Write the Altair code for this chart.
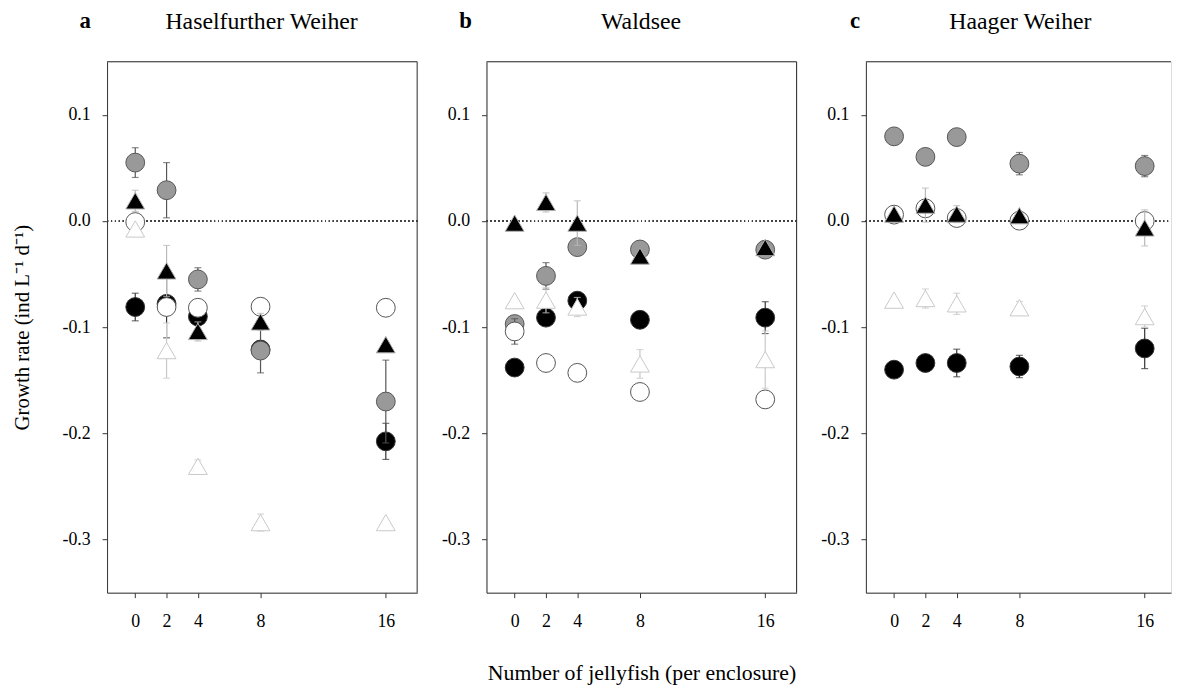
import altair as alt
import pandas as pd

# ---------------- data ----------------
x_vals = [0, 2, 4, 8, 16]
panel_ids = ["a", "b", "c"]
lake_names = ["Haselfurther Weiher", "Waldsee", "Haager Weiher"]
series_order = ["black_circle", "gray_circle", "open_circle", "black_triangle", "light_triangle"]

# Panel a: Haselfurther Weiher
a_black_circle = [-0.081, -0.078, -0.090, -0.121, -0.2075]
a_black_circle_se = [0.013, 0.032, 0.0, 0.0, 0.017]
a_gray_circle = [0.055, 0.029, -0.055, -0.122, -0.170]
a_gray_circle_se = [0.014, 0.026, 0.011, 0.021, 0.039]
a_open_circle = [-0.001, -0.081, -0.0817, -0.0807, -0.0817]
a_open_circle_se = [0.0, 0.0, 0.0, 0.0, 0.0]
a_black_triangle = [0.019, -0.047, -0.104, -0.095, -0.1165]
a_black_triangle_se = [0.010, 0.024, 0.009, 0.008, 0.0]
a_light_triangle = [-0.0075, -0.122, -0.231, -0.284, -0.284]
a_light_triangle_se = [0.0, 0.026, 0.006, 0.008, 0.0]

# Panel b: Waldsee
b_black_circle = [-0.138, -0.091, -0.075, -0.093, -0.091]
b_black_circle_se = [0.0, 0.0, 0.0, 0.0, 0.015]
b_gray_circle = [-0.097, -0.0517, -0.0246, -0.0268, -0.027]
b_gray_circle_se = [0.0, 0.0125, 0.0, 0.0, 0.0]
b_open_circle = [-0.104, -0.1337, -0.143, -0.161, -0.168]
b_open_circle_se = [0.012, 0.0, 0.0, 0.0, 0.0]
b_black_triangle = [-0.002, 0.0175, -0.002, -0.033, -0.025]
b_black_triangle_se = [0.0, 0.009, 0.021, 0.0, 0.0]
b_light_triangle = [-0.075, -0.0745, -0.081, -0.1346, -0.1305]
b_light_triangle_se = [0.0, 0.012, 0.009, 0.0135, 0.027]

# Panel c: Haager Weiher
c_black_circle = [-0.140, -0.1337, -0.1337, -0.137, -0.120]
c_black_circle_se = [0.0, 0.0, 0.013, 0.0105, 0.019]
c_gray_circle = [0.0797, 0.0604, 0.079, 0.054, 0.0517]
c_gray_circle_se = [0.0, 0.0, 0.0, 0.0105, 0.010]
c_open_circle = [0.006, 0.0119, 0.0028, 0.0003, 0.0]
c_open_circle_se = [0.0, 0.0, 0.0, 0.0, 0.0]
c_black_triangle = [0.0065, 0.015, 0.0065, 0.005, -0.0065]
c_black_triangle_se = [0.0, 0.016, 0.008, 0.0, 0.017]
c_light_triangle = [-0.0745, -0.073, -0.078, -0.0817, -0.090]
c_light_triangle_se = [0.0, 0.009, 0.010, 0.006, 0.010]

y_tick_values = [0.1, 0.0, -0.1, -0.2, -0.3]

# ---------------- build table ----------------
g = globals()
rows = []
for p in panel_ids:
    for s in series_order:
        vals = g[f"{p}_{s}"]
        ses = g[f"{p}_{s}_se"]
        for xv, yv, se in zip(x_vals, vals, ses):
            rows.append({"panel": p, "series": s, "x": xv, "y": yv, "se": se,
                         "lo": yv - se, "hi": yv + se})
df = pd.DataFrame(rows)

# ---------------- styles ----------------
FONT = "Liberation Serif"
style = {
    "black_circle": dict(shape="circle", fill="#000000", stroke="#333333", err="#333333"),
    "gray_circle": dict(shape="circle", fill="#999999", stroke="#555555", err="#555555"),
    "open_circle": dict(shape="circle", fill="#ffffff", stroke="#555555", err="#555555"),
    "black_triangle": dict(shape="triangle-up", fill="#000000", stroke="#b0b0b0", err="#b8b8b8"),
    "light_triangle": dict(shape="triangle-up", fill="#ffffff", stroke="#c8c8c8", err="#c8c8c8"),
}
H = 536
widths = [313, 313, 308]
x_max = [18.0, 18.0, 17.68]
ylab_expr = "datum.value < -0.001 ? '-' + format(abs(datum.value), '.1f') : format(datum.value, '.1f')"


def make_panel(i):
    p = panel_ids[i]
    w = widths[i]
    d = df[df.panel == p]
    xscale = alt.Scale(domain=[-1.8, x_max[i]], nice=False, zero=False)
    yscale = alt.Scale(domain=[-0.35, 0.15], nice=False, zero=False)
    xaxis = alt.Axis(values=x_vals, grid=False, domain=True, domainColor="#333333",
                     tickColor="#333333", tickSize=5, labelFont=FONT, labelFontSize=18,
                     labelColor="#000000", labelPadding=15, titleFont=FONT, titleFontSize=22,
                     titleFontWeight="normal", titleColor="#000000", titlePadding=33)
    yaxis = alt.Axis(values=y_tick_values, grid=False, domain=True, domainColor="#333333",
                     tickColor="#333333", tickSize=5, labelFont=FONT, labelFontSize=18,
                     labelColor="#000000", labelPadding=12, labelExpr=ylab_expr,
                     titleFont=FONT, titleFontSize=21, titleFontWeight="normal",
                     titleColor="#000000", titlePadding=30)
    xtitle = "Number of jellyfish (per enclosure)" if i == 1 else None
    ytitle = "Growth rate (ind  L⁻¹ d⁻¹)" if i == 0 else None

    def X(field="x"):
        return alt.X(field, type="quantitative", scale=xscale, axis=xaxis, title=xtitle)

    def Y(field="y"):
        return alt.Y(field, type="quantitative", scale=yscale, axis=yaxis, title=ytitle)

    layers = []
    # zero reference line
    layers.append(
        alt.Chart(d).mark_rule(strokeDash=[1, 3], color="#444444", strokeWidth=1)
        .encode(y=alt.datum(0, scale=yscale), x=alt.value(0), x2=alt.value(w))
    )
    for s in series_order:
        st = style[s]
        ds = d[d.series == s]
        de = ds[ds.se > 0]
        if len(de):
            layers.append(alt.Chart(de).mark_rule(color=st["err"], strokeWidth=1.2)
                          .encode(x=X(), y=Y("lo"), y2="hi"))
            layers.append(alt.Chart(de).mark_tick(color=st["err"], orient="horizontal",
                                                  size=7, thickness=1.2)
                          .encode(x=X(), y=Y("lo")))
            layers.append(alt.Chart(de).mark_tick(color=st["err"], orient="horizontal",
                                                  size=7, thickness=1.2)
                          .encode(x=X(), y=Y("hi")))
        layers.append(alt.Chart(ds).mark_point(shape=st["shape"], filled=True, fill=st["fill"],
                                               stroke=st["stroke"], strokeWidth=1, size=361,
                                               opacity=1)
                      .encode(x=X(), y=Y()))
    one = pd.DataFrame({"k": [0]})
    # frame top / right
    layers.append(alt.Chart(one).mark_rule(color="#333333", strokeWidth=1)
                  .encode(x=alt.value(0), x2=alt.value(w), y=alt.value(0)))
    if i < 2:
        layers.append(alt.Chart(one).mark_rule(color="#333333", strokeWidth=1)
                      .encode(x=alt.value(w), y=alt.value(0), y2=alt.value(H)))
    # titles
    letter_dx = [-22, -21, -11][i]
    layers.append(alt.Chart(one).mark_text(text=p, font=FONT, fontSize=23, fontWeight="bold",
                                           color="#000000", align="center", baseline="alphabetic")
                  .encode(x=alt.value(letter_dx), y=alt.value(-34)))
    layers.append(alt.Chart(one).mark_text(text=lake_names[i], font=FONT, fontSize=24,
                                           color="#000000", align="center", baseline="alphabetic")
                  .encode(x=alt.value(156), y=alt.value(-33)))
    return alt.layer(*layers).properties(width=w, height=H)


chart = alt.hconcat(make_panel(0), make_panel(1), make_panel(2), spacing=70, bounds="flush") \
    .properties(padding={"left": 3, "top": -2, "right": 0, "bottom": 0}) \
    .configure_view(stroke=None) \
    .configure(background="white")

chart.save("out.html", embed_options={"renderer": "svg", "actions": False})
